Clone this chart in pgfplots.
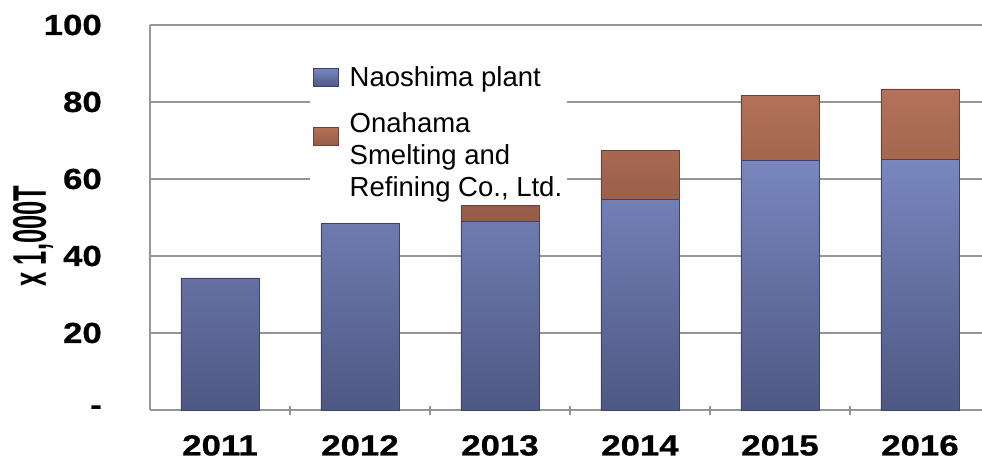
\documentclass[border=0pt]{standalone}
\usepackage{fontspec}
\setmainfont{Liberation Sans}
\newfontfamily\tickfont{Liberation Sans}[FakeStretch=1.2, FakeBold=0.8]
\usepackage{pgfplots}
\pgfplotsset{compat=1.18}
\definecolor{gridgray}{RGB}{150,150,150}
\definecolor{blueTop}{RGB}{120,135,190}
\definecolor{blueBot}{RGB}{78,88,132}
\definecolor{blueEdge}{RGB}{60,66,105}
\definecolor{brownTop}{RGB}{180,114,88}
\definecolor{brownBot}{RGB}{150,92,72}
\definecolor{brownEdge}{RGB}{110,65,50}
\pgfplotsset{tallimg/.style={legend image code/.code={\path[opacity=0] (0pt,-28pt) rectangle (25pt,28pt); \draw[##1] (0pt,10pt) rectangle (25pt,28pt);}}}
\begin{document}
\begin{tikzpicture}
\begin{axis}[
  at={(0,0)}, anchor=south west,
  scale only axis, width=832pt, height=385pt,
  ybar stacked, bar width=78pt,
  xmin=-0.5, xmax=5.443, ymin=0, ymax=100,
  ytick={0,20,40,60,80,100},
  yticklabels={-,20,40,60,80,100},
  xtick={0,...,5},
  xticklabels={2011,2012,2013,2014,2015,2016},
  minor xtick={0.5,1.5,2.5,3.5,4.5},
  major tick length=0pt,
  minor tick length=9pt,
  tick align=inside,
  minor tick style={gridgray, line width=1.2pt},
  ymajorgrids,
  grid style={gridgray, line width=1.2pt},
  axis lines=left,
  axis line style={-, gridgray, line width=1.2pt},
  ticklabel style={font=\tickfont\bfseries\fontsize{29}{31}\selectfont},
  yticklabel style={anchor=east, inner sep=0pt, xshift=-48pt},
  xticklabel style={anchor=north, inner sep=0pt, yshift=-25pt},
  ylabel={\scalebox{1}[1.85]{x 1,000T}},
  every axis y label/.style={at={(axis description cs:0,0.452)}, xshift=-117pt, rotate=90, anchor=center, font=\bfseries\fontsize{25.5}{28}\selectfont},
  legend style={at={(0.192,0.902)}, anchor=north west, draw=none, fill=white,
    font=\fontsize{27.5}{32}\selectfont, cells={anchor=west, align=left},
    row sep=20pt, /tikz/every odd column/.append style={column sep=9pt}},
  legend image code/.code={\draw[#1] (0pt,-9pt) rectangle (25pt,9pt);},
]
\addplot[top color=blueTop, bottom color=blueBot, draw=blueEdge, line width=0.8pt]
  coordinates {(0,34.3) (1,48.5) (2,48.9) (3,54.7) (4,64.9) (5,65.0)};
\addlegendentry{Naoshima plant}
\addplot[top color=brownTop, bottom color=brownBot, draw=brownEdge, line width=0.8pt, tallimg]
  coordinates {(0,0) (1,0) (2,4.2) (3,12.8) (4,16.9) (5,18.4)};
\addlegendentry{Onahama\\Smelting and\\Refining Co., Ltd.}
\end{axis}
\pgfresetboundingbox
\path[use as bounding box] (-150pt,-50pt) rectangle (832pt,410pt);
\end{tikzpicture}
\end{document}
